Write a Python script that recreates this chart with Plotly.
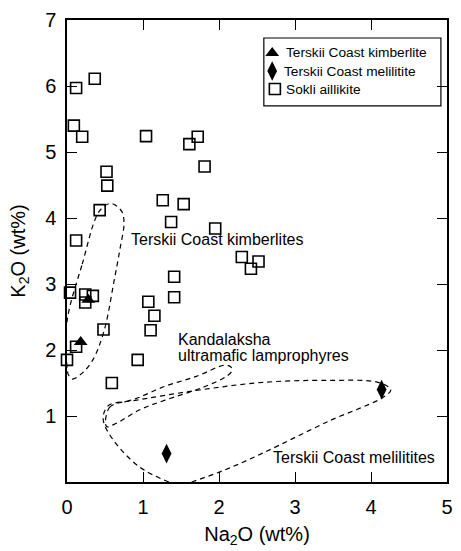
import plotly.graph_objects as go

# Sokli aillikite (open squares)
sokli_na2o = [0.12, 0.365, 0.09, 0.20, 1.04, 1.61, 1.72, 1.81, 0.52, 0.53,
              1.26, 1.535, 1.37, 1.95, 0.43, 0.12, 2.30, 2.42, 2.52, 1.41,
              1.41, 0.04, 0.24, 0.34, 0.24, 1.07, 1.15, 1.10, 0.48, 0.12,
              0.00, 0.93, 0.59]
sokli_k2o = [5.97, 6.11, 5.40, 5.23, 5.24, 5.12, 5.23, 4.78, 4.70, 4.49,
             4.27, 4.21, 3.94, 3.84, 4.12, 3.66, 3.41, 3.23, 3.34, 3.11,
             2.80, 2.87, 2.84, 2.82, 2.72, 2.73, 2.52, 2.30, 2.31, 2.05,
             1.85, 1.85, 1.50]

# Terskii Coast kimberlite (filled triangles)
kimb_na2o = [0.28, 0.18]
kimb_k2o = [2.76, 2.12]

# Terskii Coast melilitite (filled diamonds)
mel_na2o = [1.31, 4.14]
mel_k2o = [0.43, 1.40]

# Envelope outlines (dashed)
env_kimb_x = [0.0, 0.20, 0.43, 0.58, 0.72, 0.75, 0.70, 0.62, 0.49, 0.34, 0.20, 0.07, 0.02, 0.0, 0.0]
env_kimb_y = [2.43, 3.30, 4.11, 4.22, 4.10, 3.92, 3.55, 3.05, 2.30, 1.85, 1.65, 1.56, 1.62, 1.75, 2.43]

env_kand_x = [0.52, 0.56, 0.90, 1.29, 1.70, 2.07, 2.15, 2.17, 2.11, 1.80, 1.29, 0.95, 0.65, 0.52]
env_kand_y = [0.84, 1.13, 1.26, 1.45, 1.60, 1.77, 1.75, 1.69, 1.61, 1.44, 1.24, 1.09, 0.89, 0.84]

env_mel_x = [1.34, 0.95, 0.60, 0.48, 0.49, 0.56, 0.86, 1.72, 2.58, 3.44, 4.09, 4.26, 4.17, 3.44, 2.58, 2.07, 1.64]
env_mel_y = [0.00, 0.23, 0.65, 0.92, 1.06, 1.17, 1.23, 1.39, 1.51, 1.54, 1.51, 1.40, 1.29, 0.92, 0.44, 0.18, 0.00]

# Labels
legend_labels = ["Terskii Coast kimberlite", "Terskii Coast melilitite", "Sokli aillikite"]
field_labels = ["Terskii Coast kimberlites", "Kandalaksha", "ultramafic lamprophyres",
                "Terskii Coast melilitites"]
field_label_x = [0.81, 1.44, 1.44, 2.69]
field_label_y = [3.67, 2.16, 1.92, 0.37]

x_ticks = [0, 1, 2, 3, 4, 5]
y_ticks = [1, 2, 3, 4, 5, 6, 7]

FONT = "Liberation Sans, Arial, sans-serif"

# legend layout (fractions of the plot area)
LEG_X0, LEG_X1, LEG_Y0, LEG_Y1 = 0.518, 0.984, 0.814, 0.961
LEG_ROWS = [0.9286, 0.8896, 0.8506]
LEG_KEY_X = [0.540, 0.540, 0.547]
LEG_TEXT_X = [0.572, 0.567, 0.570]

styles = [
    dict(symbol="triangle-up", size=12, color="black"),
    dict(symbol="diamond-tall", size=14, color="black"),
    dict(symbol="square-open", size=11, color="black", line=dict(width=1.6, color="black")),
]

fig = go.Figure()

env_line = dict(color="black", width=1.2, dash="5px,4px", shape="spline", smoothing=1.0)
for ex, ey in [(env_kimb_x, env_kimb_y), (env_kand_x, env_kand_y), (env_mel_x, env_mel_y)]:
    fig.add_trace(go.Scatter(x=ex, y=ey, mode="lines", line=env_line,
                             showlegend=False, hoverinfo="skip"))

series = [(kimb_na2o, kimb_k2o), (mel_na2o, mel_k2o), (sokli_na2o, sokli_k2o)]
for (sx, sy), st, name in zip(series, styles, legend_labels):
    fig.add_trace(go.Scatter(x=sx, y=sy, mode="markers", name=name, showlegend=False,
                             marker=st, cliponaxis=False))

for t, x, y in zip(field_labels, field_label_x, field_label_y):
    fig.add_annotation(x=x, y=y, text=t, showarrow=False,
                       xanchor="left", yanchor="middle", align="left",
                       font=dict(family=FONT, size=16, color="black"))

# Legend box
fig.add_shape(type="rect", xref="paper", yref="paper",
              x0=LEG_X0, x1=LEG_X1, y0=LEG_Y0, y1=LEG_Y1,
              line=dict(color="black", width=1.2), fillcolor="white", layer="below")
# legend keys drawn on an overlay axis spanning the plot area in 0..1 units
for i, st in enumerate(styles):
    fig.add_trace(go.Scatter(x=[LEG_KEY_X[i]], y=[LEG_ROWS[i]], mode="markers",
                             marker=st, xaxis="x2", yaxis="y2",
                             showlegend=False, hoverinfo="skip", cliponaxis=False))
    fig.add_annotation(xref="paper", yref="paper", x=LEG_TEXT_X[i], y=LEG_ROWS[i],
                       text=legend_labels[i], showarrow=False,
                       xanchor="left", yanchor="middle",
                       font=dict(family=FONT, size=13.7, color="black"))

axis_common = dict(showline=True, linecolor="black", linewidth=1.5, mirror="ticks",
                   ticks="inside", ticklen=10, tickwidth=1.2, tickcolor="black",
                   showgrid=False, zeroline=False,
                   tickfont=dict(family=FONT, size=20, color="black"))

fig.update_layout(
    width=461, height=551,
    margin=dict(l=67, r=8, t=20, b=69),
    plot_bgcolor="white", paper_bgcolor="white",
    font=dict(family=FONT, color="black"),
    showlegend=False,
    xaxis=dict(range=[0, 5], tickvals=x_ticks, ticktext=[str(v) for v in x_ticks],
               ticklabelstandoff=6,
               title=dict(text="Na<sub>2</sub>O (wt%)", font=dict(family=FONT, size=20, color="black"), standoff=10),
               **axis_common),
    yaxis=dict(range=[0, 7], tickvals=y_ticks, ticktext=[str(v) for v in y_ticks],
               ticklabelstandoff=5,
               title=dict(text="K<sub>2</sub>O (wt%)", font=dict(family=FONT, size=20, color="black"), standoff=14),
               **axis_common),
    xaxis2=dict(overlaying="x", range=[0, 1], visible=False, anchor="y2"),
    yaxis2=dict(overlaying="y", range=[0, 1], visible=False, anchor="x2"),
)

fig.write_html("out.html")
